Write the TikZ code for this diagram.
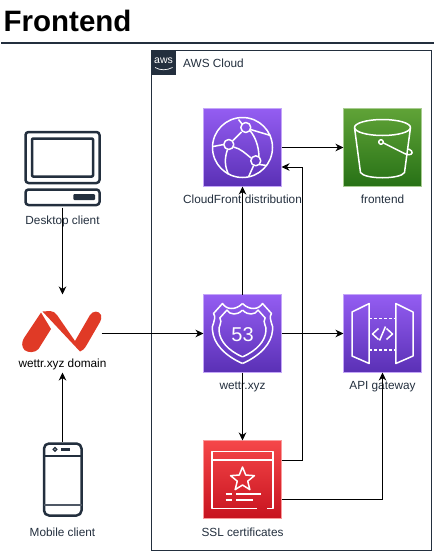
\documentclass[tikz,border=0pt]{standalone}
\usepackage{fontspec}
\setmainfont{Liberation Sans}
\usetikzlibrary{arrows.meta, calc}

\definecolor{awsdark}{HTML}{232F3E}
\definecolor{ncred}{HTML}{E03A26}
\definecolor{purpletop}{HTML}{945DF2}
\definecolor{purplebot}{HTML}{5A30B5}
\definecolor{greentop}{HTML}{60A337}
\definecolor{greenbot}{HTML}{277116}
\definecolor{redtop}{HTML}{F54749}
\definecolor{redbot}{HTML}{C7131F}

\tikzset{
    icon/.style={minimum size=78pt, inner sep=0pt, outer sep=0pt},
    purpleicon/.style={icon, draw=purpletop!55!white, top color=purpletop, bottom color=purplebot},
    glyph/.style={white, line width=1.5pt, line join=round},
    device/.style={awsdark, line width=2.5pt, line join=round},
    iconlabel/.style={text=awsdark, font=\fontsize{11.8}{14}\selectfont},
    conn/.style={line width=1pt, -{Stealth[length=8pt, width=7.5pt, inset=2.5pt]}},
}

\begin{document}
\begin{tikzpicture}[x=1pt, y=-1pt]

    \useasboundingbox (0,0) rectangle (434,551);

    \node[anchor=west, inner sep=0pt, font=\fontsize{29.5}{32}\selectfont\bfseries] (title) at (3.5,21) {Frontend};
    \draw[awsdark, line width=2pt] (1,43.5) -- (434,43.5);

    % cloud frame
    \node[draw=awsdark, line width=1pt, minimum width=280pt, minimum height=500pt, inner sep=0pt] (cloud) at (291.5,300.5) {};
    \node[fill=awsdark, minimum size=25pt, inner sep=0pt, anchor=north west] (awslogo) at (cloud.north west) {};
    \node[text=white, font=\fontsize{10.5}{12}\selectfont, inner sep=0pt] (awstext) at (163.5,60.5) {aws};
    \draw[white, line width=0.7pt] (155,67.5) .. controls (160,70.5) and (167,70.5) .. (172.5,67.5);
    \node[iconlabel, anchor=west, inner sep=0pt] (cloudtext) at (183,63.5) {AWS Cloud};

    % icons
    \node[purpleicon] (cdn) at (242.5,147.5) {};
    \node[icon, draw=greentop!55!white, top color=greentop, bottom color=greenbot] (bucket) at (382.5,147.5) {};
    \node[purpleicon] (route) at (242.5,333.5) {};
    \node[purpleicon] (gateway) at (382.5,333.5) {};
    \node[icon, draw=redtop!55!white, top color=redtop, bottom color=redbot] (cert) at (242.5,479.5) {};
    \node[icon] (desktop) at (62.5,168.5) {};
    \node[icon] (domain) at (62.5,333.5) {};
    \node[minimum width=78pt, minimum height=76pt, inner sep=0pt, outer sep=0pt] (mobile) at (62.5,480) {};

    % cloudfront
    \begin{scope}[shift={(cdn.center)}, glyph]
        \draw (0,0) circle[radius=30];
        \draw (3.3,-20) circle[radius=5];
        \draw (-13.7,-3) circle[radius=5];
        \draw (13.3,13.3) circle[radius=5];
        \draw (-1,-15.5) -- (-9.5,-7);
        \draw (-9,-0.5) .. controls (-2,1) and (3,6) .. (8.5,10.5);
        \draw (7.5,-17) .. controls (13,-10) and (16,-2) .. (16.5,9);
        \draw (-18.7,-3) -- (-29.5,-1);
        \draw (-15,2) .. controls (-18,11) and (-18,18) .. (-14,27);
        \draw (-4,-28) -- (-0.5,-23.5);
        \draw (8,-18) -- (28,-12);
        \draw (11,18.3) -- (6,29.5);
        \draw (17,17) -- (24,18);
    \end{scope}

    % bucket
    \begin{scope}[shift={(bucket.center)}, glyph]
        \draw (0,-20) ellipse[x radius=28, y radius=8];
        \draw (-28,-20) -- (-22,25) .. controls (-18,32) and (18,32) .. (22,25) -- (28,-20);
        \draw (-1.5,-5.5) circle[radius=2.3];
        \draw (1,-4.5) -- (22,6) .. controls (28,9) and (31,6) .. (29,3.5) .. controls (28,2) and (26,1.5) .. (25,1.5);
    \end{scope}

    % route 53
    \begin{scope}[shift={(route.center)}, glyph]
        \foreach \s in {1,0.78} {
            \foreach \m in {1,-1} {
                \draw[scale=\s, xscale=\m] (0,-30) .. controls (-4,-26) and (-8,-25) .. (-11,-25) .. controls (-15,-25) and (-18,-27) .. (-20,-30) -- (-29,-20) .. controls (-25,-14) and (-32,-8) .. (-30,-3) .. controls (-29,10) and (-18,22) .. (0,30);
            }
        }
        \node[text=white, font=\fontsize{20}{22}\selectfont, inner sep=0pt] (routetext) at (0,1) {53};
    \end{scope}

    % api gateway
    \begin{scope}[shift={(gateway.center)}, glyph]
        \draw (-30.5,-21.5) -- (-13.3,-30) -- (-13.3,30) -- (-30.5,22.5) -- cycle;
        \draw (30.5,-21.5) -- (13.3,-30) -- (13.3,30) -- (30.5,22.5) -- cycle;
        \draw[dash pattern=on 3pt off 2pt] (-13.3,-15) -- (13.3,-15);
        \draw[dash pattern=on 3pt off 2pt] (-13.3,16.7) -- (13.3,16.7);
        \draw (-4,-5) -- (-10,0.5) -- (-4,6);
        \draw (-3,7) -- (3,-7);
        \draw (4,-5) -- (10,0.5) -- (4,6);
    \end{scope}

    % certificates
    \begin{scope}[shift={(cert.center)}, glyph]
        \draw (14,29) -- (-30.3,29) -- (-30.3,-28) -- (30.3,-28) -- (30.3,29) -- (24,29);
        \draw (-30.3,-19.7) -- (30.3,-19.7);
        \draw (-90:12.5) -- (-54:5.5) -- (-18:12.5) -- (18:5.5) -- (54:12.5) -- (90:5.5) -- (126:12.5) -- (162:5.5) -- (198:12.5) -- (234:5.5) -- cycle;
        \draw (-17,14.3) -- (-11,14.3);
        \draw (-6.5,14.3) -- (18,14.3);
        \draw (-17,20.3) -- (-11,20.3);
        \draw (-6.5,20.3) -- (10,20.3);
    \end{scope}

    % desktop
    \draw[device, rounded corners=3pt] (25.5,132) rectangle (99.5,183);
    \draw[device, rounded corners=1pt] (32,138.5) rectangle (93,176.5);
    \draw[device, rounded corners=3pt] (25.5,189.5) rectangle (99.5,205);
    \fill[awsdark, rounded corners=1pt] (73.3,194) rectangle (95,200);

    % domain logo
    \fill[ncred] (41,312.5) -- (51,329) -- (38.5,349) .. controls (35,353) and (28,353) .. (24.5,350) .. controls (21.5,347) and (21.5,342) .. (24,338) -- cycle;
    \fill[ncred] (42.5,311.5) -- (50,311) .. controls (53,311) and (55,312.5) .. (57,315) -- (75,341) -- (90,315) .. controls (93,310.5) and (99,310.5) .. (101,315) .. controls (102,317.5) and (101,320) .. (100,322) -- (86.7,345) .. controls (84.5,349) and (82,351) .. (80,351.5) -- cycle;

    % mobile
    \draw[device, rounded corners=5pt] (44,443.5) rectangle (81.5,515.5);
    \draw[awsdark, line width=2pt] (44,455.5) -- (81.5,455.5);
    \draw[awsdark!80!white, line width=2pt] (44,504.5) -- (81.5,504.5);
    \draw[awsdark, line width=1.3pt] (55,449.3) circle[radius=1.8];
    \fill[awsdark] (60.7,447.7) rectangle (70,451);

    % labels
    \node[iconlabel] (desktoptext) at (62.5,221) {Desktop client};
    \node[font=\fontsize{11.8}{14}\selectfont] (domaintext) at (62.5,364) {wettr.xyz domain};
    \node[iconlabel] (mobiletext) at (62.5,532) {Mobile client};
    \node[iconlabel] (cdntext) at (242.5,199.5) {CloudFront distribution};
    \node[iconlabel] (buckettext) at (382.5,199.5) {frontend};
    \node[iconlabel] (routetext2) at (242.5,386.5) {wettr.xyz};
    \node[iconlabel] (gatewaytext) at (382.5,386.5) {API gateway};
    \node[iconlabel] (certtext) at (242.5,532) {SSL certificates};

    % connectors
    \draw[conn] (desktop.south) -- (domain.north);
    \draw[conn] (mobile.north) -- (domain.south);
    \draw[conn] (domain.east) -- (route.west);
    \draw[conn] (route.east) -- (gateway.west);
    \draw[conn] (route.north) -- (cdn.south);
    \draw[conn] (route.south) -- (cert.north);
    \draw[conn] (cdn.east) -- (bucket.west);
    \draw[conn] ([yshift=19.5pt]cert.east) -- ++(20.5,0) |- ([yshift=-19.5pt]cdn.east);
    \draw[conn] ([yshift=-19.5pt]cert.east) -| (gateway.south);

\end{tikzpicture}
\end{document}
